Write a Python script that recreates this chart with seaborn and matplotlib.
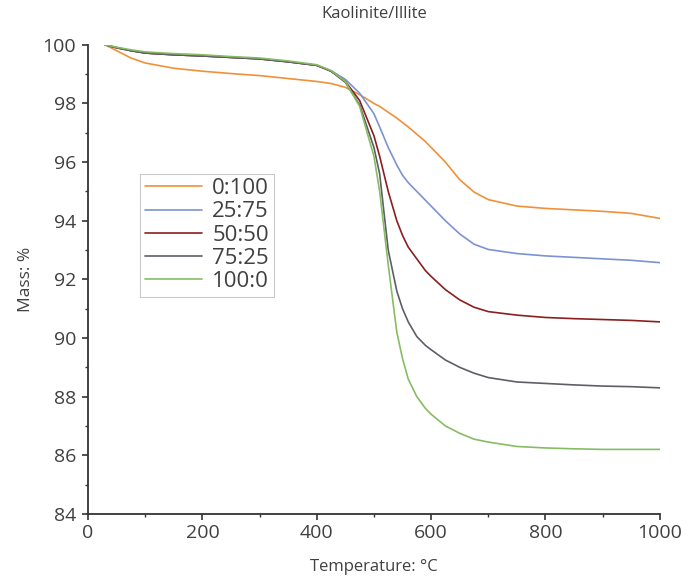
import numpy as np
import pandas as pd
import matplotlib
matplotlib.use("Agg")
import matplotlib.pyplot as plt
from matplotlib.ticker import MultipleLocator
import seaborn as sns

temperature = [30, 50, 75, 100, 150, 200, 250, 300, 350, 400, 425, 450, 475, 500, 510, 525,
               540, 550, 560, 575, 590, 600, 625, 650, 675, 700, 750, 800, 850, 900, 950, 1000]

mass_0_100 = [100.0, 99.8, 99.55, 99.38, 99.2, 99.1, 99.02, 98.95, 98.85, 98.75, 98.68, 98.55,
              98.3, 98.0, 97.9, 97.7, 97.5, 97.35, 97.2, 96.95, 96.7, 96.5, 96.0, 95.4,
              94.98, 94.72, 94.5, 94.42, 94.37, 94.32, 94.25, 94.08]
mass_25_75 = [100.0, 99.9, 99.8, 99.72, 99.66, 99.62, 99.57, 99.52, 99.42, 99.3, 99.12, 98.82,
              98.35, 97.65, 97.2, 96.5, 95.9, 95.55, 95.3, 95.0, 94.7, 94.5, 94.0, 93.55,
              93.2, 93.02, 92.88, 92.8, 92.75, 92.7, 92.65, 92.57]
mass_50_50 = [100.0, 99.9, 99.8, 99.72, 99.66, 99.62, 99.57, 99.52, 99.42, 99.3, 99.1, 98.75,
              98.1, 96.9, 96.2, 95.0, 94.0, 93.5, 93.1, 92.7, 92.3, 92.1, 91.65, 91.3,
              91.05, 90.9, 90.78, 90.7, 90.66, 90.63, 90.6, 90.55]
mass_75_25 = [100.0, 99.9, 99.8, 99.72, 99.66, 99.62, 99.57, 99.52, 99.42, 99.3, 99.1, 98.72,
              97.95, 96.5, 95.6, 93.0, 91.6, 91.0, 90.55, 90.05, 89.75, 89.6, 89.25, 89.0,
              88.8, 88.65, 88.5, 88.45, 88.4, 88.36, 88.34, 88.3]
mass_100_0 = [100.0, 99.92, 99.83, 99.76, 99.7, 99.66, 99.6, 99.55, 99.45, 99.32, 99.12, 98.75,
              97.9, 96.2, 95.0, 92.5, 90.2, 89.3, 88.6, 88.0, 87.6, 87.4, 87.0, 86.75,
              86.55, 86.45, 86.3, 86.25, 86.22, 86.2, 86.2, 86.2]

series_labels = ["0:100", "25:75", "50:50", "75:25", "100:0"]
series_values = [mass_0_100, mass_25_75, mass_50_50, mass_75_25, mass_100_0]
series_colors = ["#F0913A", "#7D93D1", "#8A1F1F", "#5E5E66", "#86BD62"]

x_ticks = [0, 200, 400, 600, 800, 1000]
y_ticks = [84, 86, 88, 90, 92, 94, 96, 98, 100]

rows = []
for lab, vals in zip(series_labels, series_values):
    for t, m in zip(temperature, vals):
        rows.append({"Temperature": t, "Mass": m, "Ratio": lab})
df = pd.DataFrame(rows)

sns.set_style("ticks")
text_color = "#404040"
plt.rcParams["font.family"] = ["Open Sans", "DejaVu Sans"]
plt.rcParams["text.color"] = text_color
plt.rcParams["axes.labelcolor"] = text_color
plt.rcParams["xtick.color"] = "#333333"
plt.rcParams["ytick.color"] = "#333333"

fig = plt.figure(figsize=(6.88, 5.82), dpi=100)
ax = fig.add_axes([0.128, 0.117, 0.831, 0.806])

sns.lineplot(data=df, x="Temperature", y="Mass", hue="Ratio", hue_order=series_labels,
             palette=dict(zip(series_labels, series_colors)), linewidth=1.2, ax=ax,
             legend=False, sort=False, estimator=None)

ax.set_xlim(0, 1000)
ax.set_ylim(84, 100)
ax.set_xticks(x_ticks)
ax.set_yticks(y_ticks)
ax.xaxis.set_minor_locator(MultipleLocator(100))
ax.yaxis.set_minor_locator(MultipleLocator(1))
ax.tick_params(axis="both", which="major", labelsize=14, length=4.5, width=1.2,
               labelcolor=text_color)
ax.tick_params(axis="y", which="major", pad=4)
ax.tick_params(axis="x", which="major", pad=3)
ax.tick_params(axis="both", which="minor", length=2.5, width=1.0)
for s in ["top", "right"]:
    ax.spines[s].set_visible(False)
for s in ["left", "bottom"]:
    ax.spines[s].set_linewidth(1.3)
    ax.spines[s].set_color("#333333")

ax.set_xlabel("Temperature: °C", fontsize=12, labelpad=12)
ax.set_ylabel("Mass: %", fontsize=12.5, labelpad=6)
ax.set_title("Kaolinite/Illite", fontsize=12, pad=19)

handles = [plt.Line2D([0], [0], color=c, lw=1.2) for c in series_colors]
leg = ax.legend(handles, series_labels, loc="upper left", bbox_to_anchor=(0.091, 0.725),
                fontsize=16, frameon=True, fancybox=False, handlelength=2.6,
                handletextpad=0.45, labelspacing=0.1, borderpad=0.2, borderaxespad=0)
leg.get_frame().set_edgecolor("#BBBBBB")
leg.get_frame().set_linewidth(0.8)
for t in leg.get_texts():
    t.set_color(text_color)

fig.savefig("out.png", dpi=100)
